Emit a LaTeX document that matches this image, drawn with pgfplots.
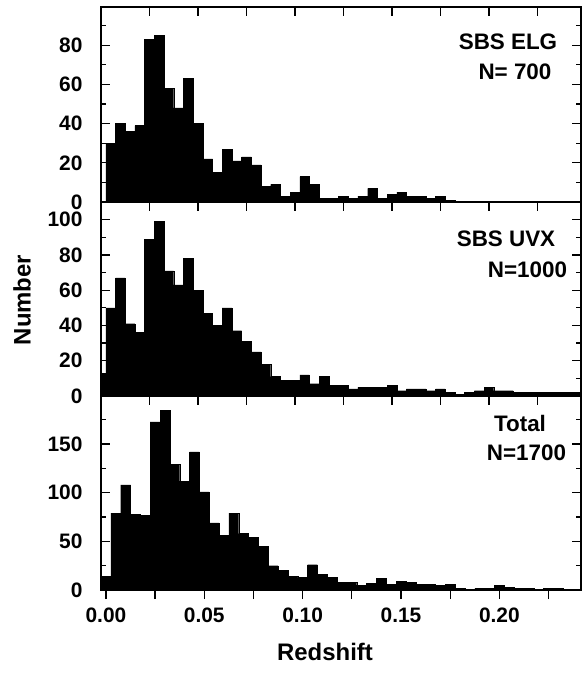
\documentclass[border=0pt]{standalone}
\usepackage{pgfplots}
\pgfplotsset{compat=1.18}
\usepackage{fontspec}
\setmainfont{Liberation Sans}
\begin{document}
\begin{tikzpicture}
\pgfplotsset{
  panel/.style={
    scale only axis, width=480bp, anchor=south west,
    axis line style={line width=1.8bp},
    tick align=inside,
    every tick/.style={line width=1.3bp, black},
    major tick length=9bp, minor tick length=5bp,
    ytick pos=both, yticklabel pos=left,
    tick label style={font=\fontsize{21}{21}\selectfont\bfseries},
    /pgf/number format/assume math mode=true,
    yticklabel style={xshift=-15bp},
    axis on top,
  },
  xover/.style={
    scale only axis, width=480bp, anchor=south west,
    hide y axis, axis x line*=bottom, tick align=outside,
    axis line style={draw=none},
    every tick/.style={line width=1.3bp, black},
    major tick length=9bp, minor tick length=9bp,
    ymin=0, ymax=1,
    tick label style={font=\fontsize{21}{21}\selectfont\bfseries},
    xticklabel style={yshift=-5bp},
    /pgf/number format/assume math mode=true,
  },
  % histogram drawn as one filled outline; each x is a bin centre (bin width 0.005),
  % the first and last entries repeat the end bins' values at their outer edges
  bars/.style={const plot mark mid, fill=black, draw=black, line width=0.3bp},
}
\useasboundingbox (-101bp,-83bp) rectangle (481bp,590bp);

% Panel 3: Total
\begin{axis}[panel, at={(0bp,0bp)}, height=194bp,
  xmin=-0.0025, xmax=0.2415, ymin=0, ymax=199.5,
  xtick=\empty,
  ytick={0,50,100,150}, minor ytick={25,75,125,175}]
\addplot[bars] coordinates {
(-0.0025,14)
(0,14) (0.005,79) (0.01,108) (0.015,78) (0.02,77) (0.025,173) (0.03,185) (0.035,129)
(0.04,112) (0.045,142) (0.05,101) (0.055,69) (0.06,56) (0.065,79) (0.07,58) (0.075,54)
(0.08,45) (0.085,25) (0.09,20) (0.095,14) (0.1,13) (0.105,26) (0.11,16) (0.115,13)
(0.12,8) (0.125,8) (0.13,5) (0.135,7) (0.14,12) (0.145,6) (0.15,9) (0.155,8)
(0.16,6) (0.165,6) (0.17,5) (0.175,6) (0.18,2) (0.185,1) (0.19,2) (0.195,2)
(0.2,5) (0.205,3) (0.21,2) (0.215,2) (0.22,1) (0.225,2) (0.23,2) (0.235,1) (0.24,1)
(0.2425,1)} \closedcycle;
\end{axis}
\begin{axis}[xover, at={(0bp,0bp)}, height=194bp,
  xmin=-0.0025, xmax=0.2415,
  xtick={0,0.05,0.1,0.15,0.2}, xticklabels={0.00,0.05,0.10,0.15,0.20},
  minor xtick={0.025,0.075,0.125,0.175,0.225}]
\end{axis}

% Panel 2: SBS UVX
\begin{axis}[panel, at={(0bp,194bp)}, height=194bp,
  xmin=0, xmax=0.2475, ymin=0, ymax=110,
  xtick={0,0.025,0.05,0.075,0.1,0.125,0.15,0.175,0.2,0.225}, xticklabels={}, xtick pos=top,
  ytick={0,20,40,60,80,100}, minor ytick={10,30,50,70,90}]
\addplot[bars] coordinates {
(-0.0025,13)
(0,13) (0.005,50) (0.01,67) (0.015,41) (0.02,36) (0.025,89) (0.03,99) (0.035,71)
(0.04,63) (0.045,78) (0.05,60) (0.055,47) (0.06,40) (0.065,50) (0.07,37) (0.075,31)
(0.08,25) (0.085,18) (0.09,11) (0.095,9) (0.1,9) (0.105,12) (0.11,7) (0.115,11)
(0.12,6) (0.125,6) (0.13,4) (0.135,5) (0.14,5) (0.145,5) (0.15,6) (0.155,3)
(0.16,4) (0.165,4) (0.17,3) (0.175,4) (0.18,2) (0.185,1) (0.19,2) (0.195,3)
(0.2,5) (0.205,3) (0.21,3) (0.215,2) (0.22,2) (0.225,2) (0.23,2) (0.235,2) (0.24,2) (0.245,2)
(0.2475,2)} \closedcycle;
\end{axis}
\begin{axis}[xover, at={(0bp,194bp)}, height=194bp,
  xmin=0, xmax=0.2475,
  xtick={0,0.025,0.05,0.075,0.1,0.125,0.15,0.175,0.2,0.225}, xticklabels={}]
\end{axis}

% Panel 1: SBS ELG
\begin{axis}[panel, at={(0bp,388bp)}, height=195bp,
  xmin=0, xmax=0.2475, ymin=0, ymax=99.5,
  xtick={0,0.025,0.05,0.075,0.1,0.125,0.15,0.175,0.2,0.225}, xticklabels={}, xtick pos=top,
  ytick={0,20,40,60,80}, minor ytick={10,30,50,70,90}]
\addplot[bars] coordinates {
(0.0025,30)
(0.005,30) (0.01,40) (0.015,36) (0.02,39) (0.025,83) (0.03,85) (0.035,58)
(0.04,48) (0.045,63) (0.05,40) (0.055,22) (0.06,15) (0.065,27) (0.07,21) (0.075,23)
(0.08,19) (0.085,8) (0.09,9) (0.095,3) (0.1,5) (0.105,13) (0.11,9) (0.115,2)
(0.12,2) (0.125,3) (0.13,2) (0.135,3) (0.14,7) (0.145,2) (0.15,4) (0.155,5)
(0.16,3) (0.165,3) (0.17,2) (0.175,3) (0.18,1)
(0.1825,1)} \closedcycle;
\end{axis}

\begin{scope}[every node/.style={font=\fontsize{22.5}{22.5}\selectfont\bfseries, inner sep=0pt}]
\node[anchor=base] at (407bp,540bp) {SBS ELG};
\node[anchor=base] at (414bp,510bp) {N= 700};
\node[anchor=base] at (405bp,343.3bp) {SBS UVX};
\node[anchor=base] at (426.5bp,312.7bp) {N=1000};
\node[anchor=base] at (419bp,158.3bp) {Total};
\node[anchor=base] at (425.5bp,129.3bp) {N=1700};
\end{scope}
\node[rotate=90, font=\fontsize{24}{24}\selectfont\bfseries, inner sep=0pt] at (-79bp,290bp) {Number};
\node[anchor=base, font=\fontsize{24}{24}\selectfont\bfseries, inner sep=0pt] at (224bp,-70bp) {Redshift};
\end{tikzpicture}
\end{document}
